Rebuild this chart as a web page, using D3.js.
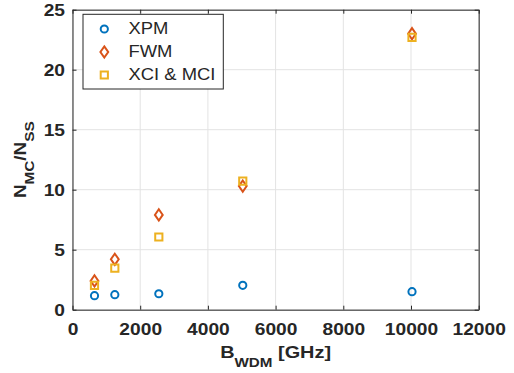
<!DOCTYPE html>
<html>
<head>
<meta charset="utf-8">
<script src="https://cdn.jsdelivr.net/npm/d3@7"></script>
<style>
  html, body { margin: 0; padding: 0; background: #fff; }
  svg { display: block; }
  text { font-family: "Liberation Sans", Arial, Helvetica, sans-serif; fill: #262626; }
</style>
</head>
<body>
<svg id="chart" width="514" height="373"></svg>
<script>
// Channel bandwidth (GHz) and noise ratios per nonlinear term
const bandwidth = [650, 1250, 2550, 5030, 10030];
const xpm = [1.17, 1.25, 1.33, 2.03, 1.5];
const fwm = [2.4, 4.2, 7.9, 10.3, 23.0];
const xciMci = [2.03, 3.47, 6.06, 10.72, 22.7];
const xTicks = [0, 2000, 4000, 6000, 8000, 10000, 12000];
const yTicks = [0, 5, 10, 15, 20, 25];
const seriesNames = ["XPM", "FWM", "XCI & MCI"];

const colors = ["#0072BD", "#D95319", "#EDB120"];
const W = 514, H = 373;
const margin = { left: 72.5, right: W - 478.7, top: 9.7, bottom: H - 309.7 };
const stretch = 1.13; // wide glyph rendering
const svg = d3.select("#chart");

const x = d3.scaleLinear().domain([0, 12000]).range([margin.left, W - margin.right]);
const y = d3.scaleLinear().domain([0, 25]).range([H - margin.bottom, margin.top]);

// grid
const grid = svg.append("g").attr("stroke", "#e3e3e3").attr("stroke-width", 1);
xTicks.forEach(t => grid.append("line")
  .attr("x1", x(t)).attr("x2", x(t)).attr("y1", y(0)).attr("y2", y(25)));
yTicks.forEach(t => grid.append("line")
  .attr("x1", x(0)).attr("x2", x(12000)).attr("y1", y(t)).attr("y2", y(t)));

// axes with inward ticks
const tickLen = 4;
const fmt = d3.format("d");
const xAxis = d3.axisBottom(x).tickValues(xTicks).tickFormat(fmt).tickSizeInner(-tickLen).tickSizeOuter(0);
const yAxis = d3.axisLeft(y).tickValues(yTicks).tickFormat(fmt).tickSizeInner(-tickLen).tickSizeOuter(0);
const xTop = d3.axisTop(x).tickValues(xTicks).tickSizeInner(-tickLen).tickSizeOuter(0).tickFormat("");
const yRight = d3.axisRight(y).tickValues(yTicks).tickSizeInner(-tickLen).tickSizeOuter(0).tickFormat("");

function style(g) {
  g.select(".domain").attr("stroke", "#262626").attr("stroke-width", 1);
  g.selectAll(".tick line").attr("stroke", "#262626");
  g.selectAll(".tick text").attr("font-size", 17).attr("font-weight", "bold")
    .attr("fill", "#262626").attr("font-family", "'Liberation Sans', Arial, sans-serif");
}
const gx = svg.append("g").attr("transform", `translate(0,${y(0)})`).call(xAxis).call(style);
gx.selectAll(".tick text").attr("y", 0).attr("dy", 0)
  .attr("transform", `translate(0,25.3) scale(${stretch},1)`);
const gy = svg.append("g").attr("transform", `translate(${x(0)},0)`).call(yAxis).call(style);
gy.selectAll(".tick text").attr("x", 0).attr("dy", 0)
  .attr("transform", `translate(-7.5,6) scale(${stretch},1)`);
svg.append("g").attr("transform", `translate(0,${y(25)})`).call(xTop).call(style);
svg.append("g").attr("transform", `translate(${x(12000)},0)`).call(yRight).call(style);

// marker shapes
const circle = d3.symbol().type(d3.symbolCircle).size(Math.PI * 3.6 * 3.6);
function diamondPath(hw, hh) {
  return `M0,${-hh}L${hw},0L0,${hh}L${-hw},0Z`;
}
function squarePath(h) {
  return `M${-h},${-h}L${h},${-h}L${h},${h}L${-h},${h}Z`;
}
const shapes = [circle(), diamondPath(3.9, 5.6), squarePath(3.6)];
const series = [xpm, fwm, xciMci];

series.forEach((vals, i) => {
  svg.append("g").selectAll("path").data(vals).join("path")
    .attr("transform", (d, j) => `translate(${x(bandwidth[j])},${y(d)})`)
    .attr("d", shapes[i])
    .attr("fill", "none")
    .attr("stroke", colors[i])
    .attr("stroke-width", 2);
});

// legend
const lg = svg.append("g");
lg.append("rect").attr("x", 83).attr("y", 14.3).attr("width", 140.3).attr("height", 74.7)
  .attr("fill", "#fff").attr("stroke", "#262626").attr("stroke-width", 1);
seriesNames.forEach((name, i) => {
  const cy = 29 + i * 23;
  lg.append("path").attr("transform", `translate(104.3,${cy})`).attr("d", shapes[i])
    .attr("fill", "none").attr("stroke", colors[i]).attr("stroke-width", 2);
  lg.append("text").attr("transform", `translate(128.5,${cy + 5.3}) scale(${stretch},1)`)
    .attr("font-size", 16.3).text(name);
});

// axis labels
const xl = svg.append("text")
  .attr("transform", `translate(${(x(0) + x(12000)) / 2},357.7) scale(${stretch + 0.04},1)`)
  .attr("text-anchor", "middle").attr("font-size", 17).attr("font-weight", "bold");
xl.append("tspan").text("B");
xl.append("tspan").attr("font-size", 13).attr("dy", 9).text("WDM");
xl.append("tspan").attr("dy", -9).text(" [GHz]");

const yl = svg.append("text")
  .attr("transform", `translate(26,${(y(0) + y(25)) / 2}) rotate(-90) scale(1.18,1)`)
  .attr("text-anchor", "middle").attr("font-size", 16).attr("font-weight", "bold");
yl.append("tspan").text("N");
yl.append("tspan").attr("font-size", 13).attr("dy", 8).text("MC");
yl.append("tspan").attr("dy", -8).text("/N");
yl.append("tspan").attr("font-size", 13).attr("dy", 8).text("SS");
</script>
</body>
</html>
